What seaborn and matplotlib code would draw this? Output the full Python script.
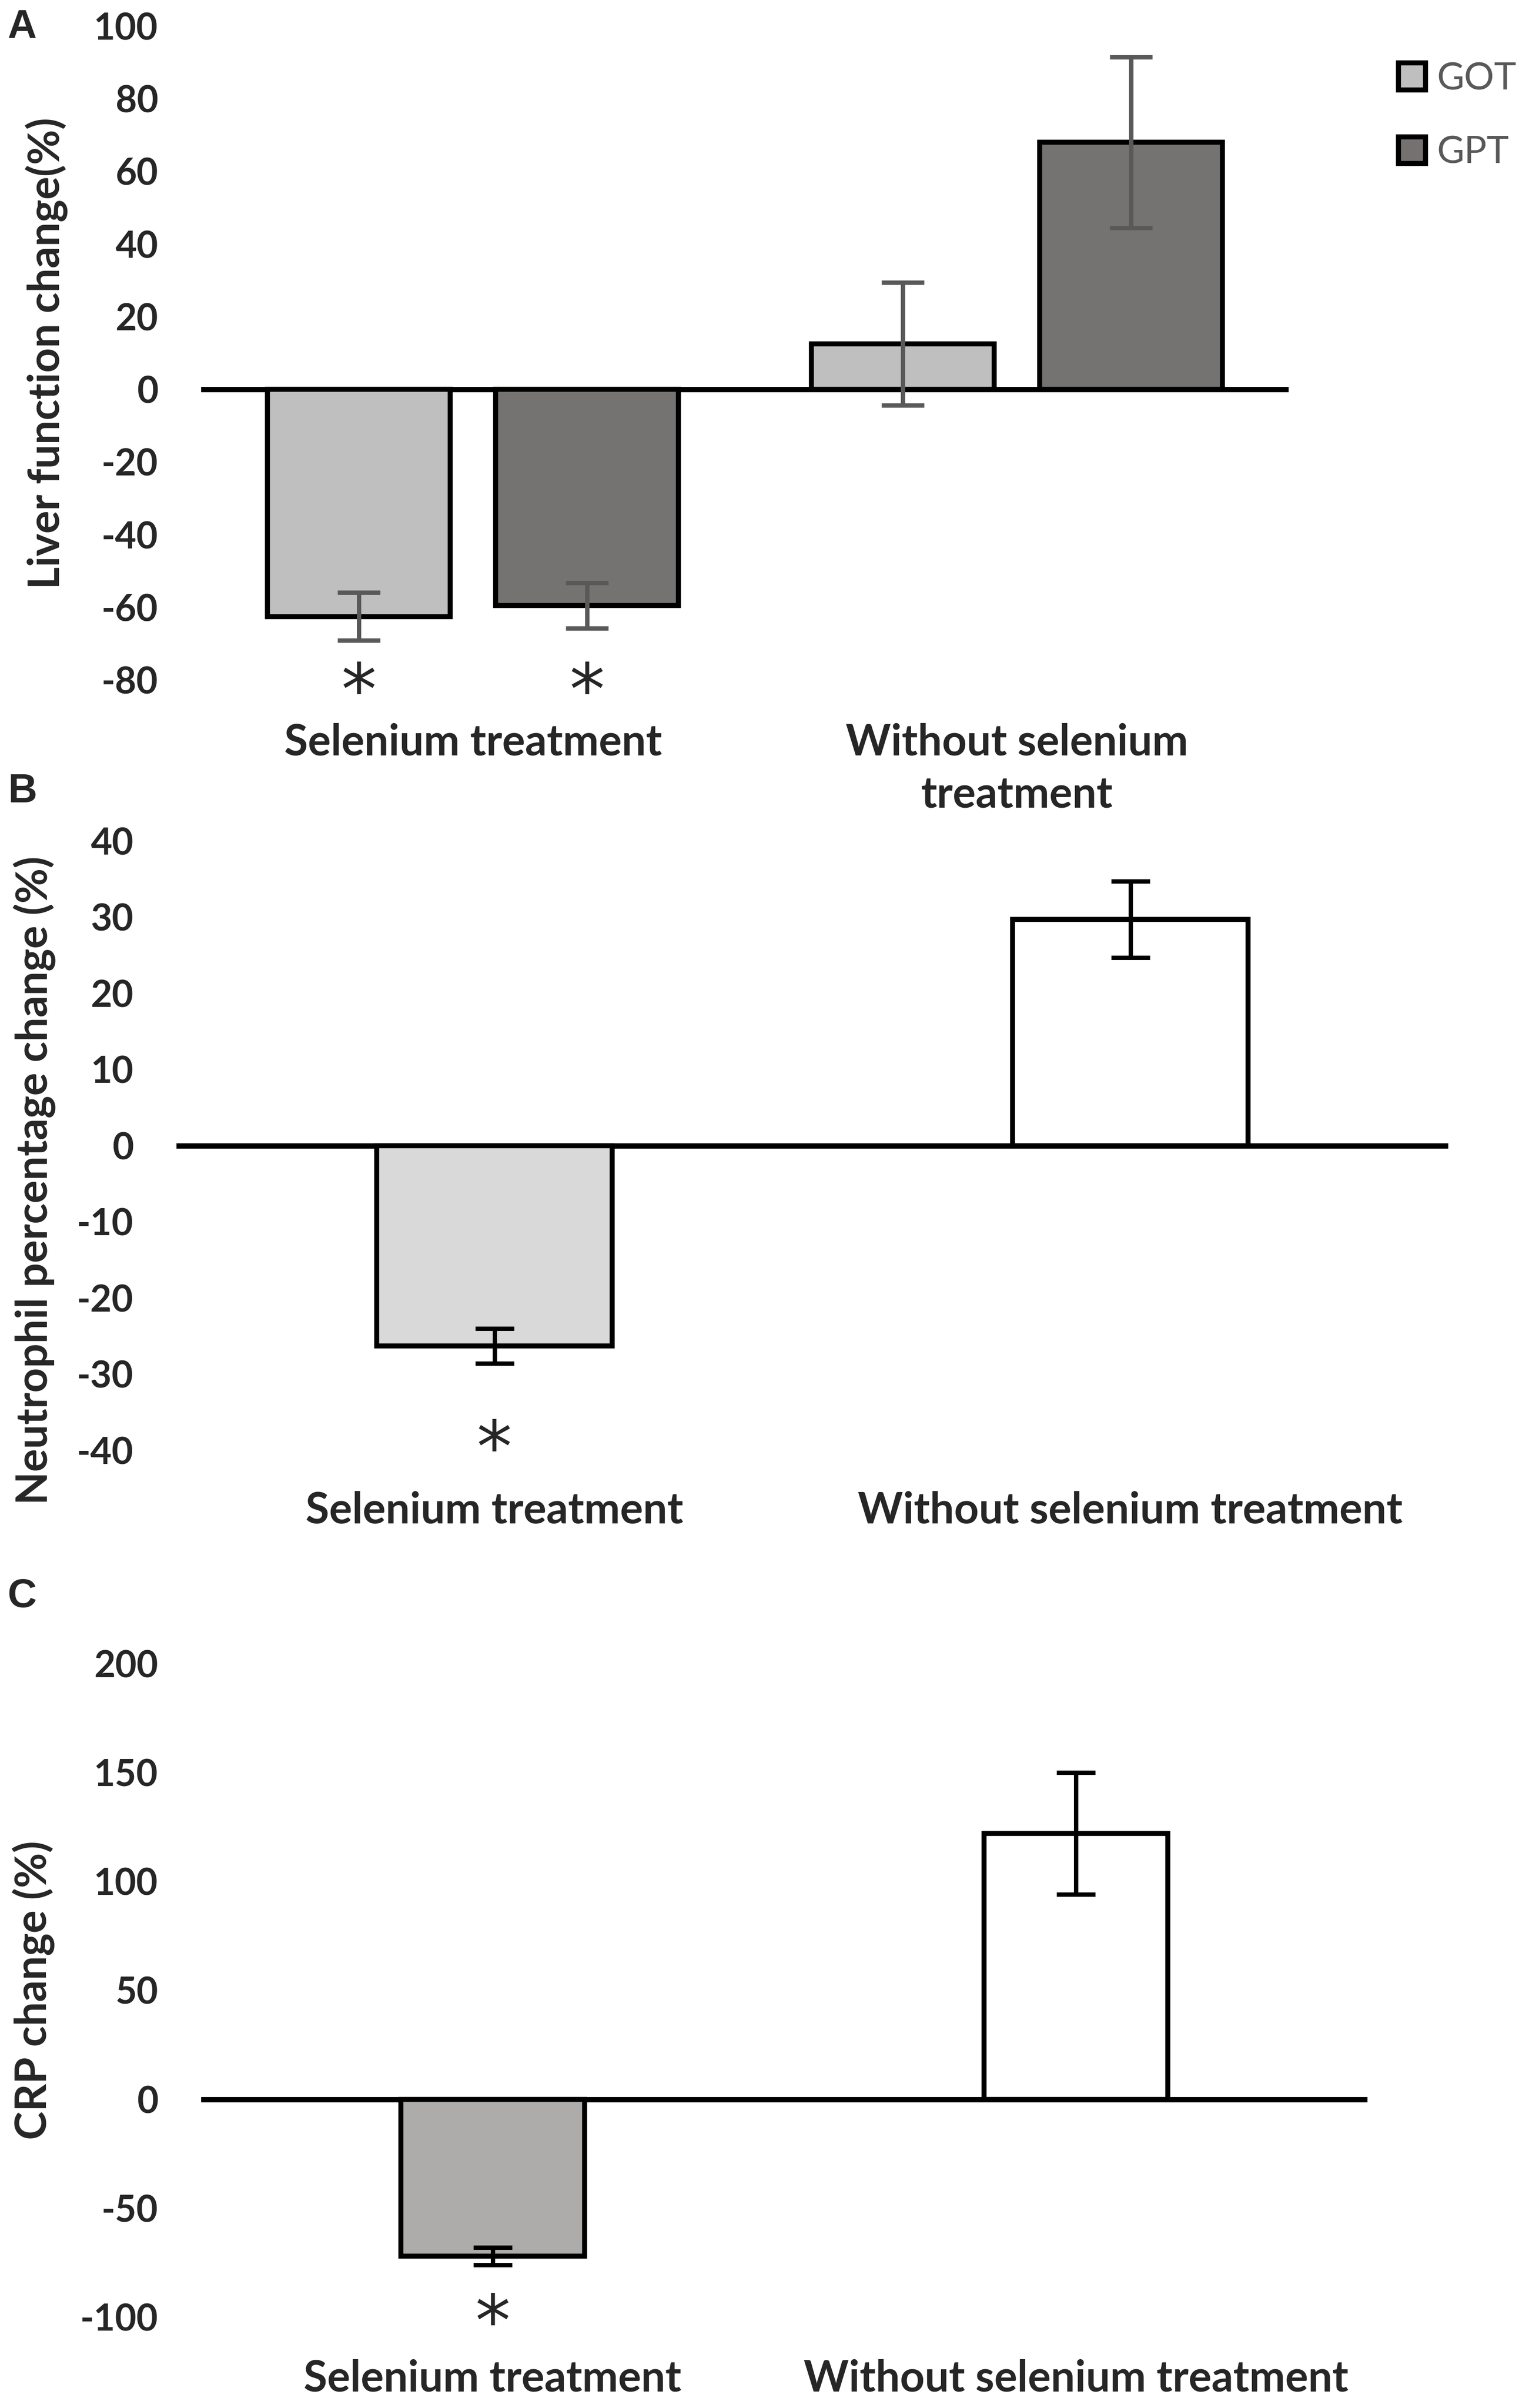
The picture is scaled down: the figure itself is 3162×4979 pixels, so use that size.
import matplotlib
matplotlib.use("Agg")
import matplotlib.pyplot as plt
from matplotlib.patches import Patch
import pandas as pd
import seaborn as sns

# Panel A - liver function
groups_a = ["Selenium treatment", "Without selenium\ntreatment"]
enzymes = ["GOT", "GPT"]
got_values = [-62.5, 12.5]
got_errors = [6.6, 16.9]
gpt_values = [-59.5, 68.0]
gpt_errors = [6.3, 23.5]

# Panel B - neutrophil
groups_b = ["Selenium treatment", "Without selenium treatment"]
neut_values = [-26.3, 29.7]
neut_errors = [2.3, 5.0]

# Panel C - CRP
crp_values = [-72.0, 122.0]
crp_errors = [4.0, 28.0]

W, H = 3162, 4979
sns.set_style("white")
plt.rcParams["font.family"] = ["Lato", "DejaVu Sans"]

fig = plt.figure(figsize=(W / 100, H / 100), dpi=100)


def px_axes(left, right, top, bottom):
    return fig.add_axes([left / W, 1 - bottom / H, (right - left) / W, (bottom - top) / H])


def style_axis(ax, ylim, ticks, ylabel, label_xy, xpad):
    ax.set_xlim(-0.5, 1.5)
    ax.set_ylim(*ylim)
    ax.set_yticks(ticks)
    ax.set_yticklabels([str(t) for t in ticks])
    sns.despine(ax=ax, left=True, bottom=True)
    ax.tick_params(axis="y", length=0, pad=64, labelsize=55)
    ax.tick_params(axis="x", length=0, pad=xpad, labelsize=64)
    for lab in ax.get_yticklabels() + ax.get_xticklabels():
        lab.set_fontweight("bold")
    ax.axhline(0, color="black", lw=8, zorder=1)
    ax.set_xlabel("")
    ax.set_ylabel(ylabel, fontsize=64, fontweight="bold", va="center")
    ax.yaxis.set_label_coords(*label_xy)
    ax.grid(False)


def add_errors(ax, bars, errs, color, cap):
    for bar, err in zip(bars, errs):
        xc = bar.get_x() + bar.get_width() / 2
        ax.errorbar(xc, bar.get_height(), yerr=err, color=color, elinewidth=6.5,
                    capsize=cap, capthick=6.5, zorder=3)


def add_star(ax, bar, y):
    ax.text(bar.get_x() + bar.get_width() / 2, y, "*", ha="center", va="center",
            fontsize=105, family="DejaVu Sans", clip_on=False)


# ---------- A ----------
axA = px_axes(416, 2665, 54, 1406)
dfA = pd.DataFrame({
    "group": groups_a * 2,
    "enzyme": [enzymes[0]] * 2 + [enzymes[1]] * 2,
    "value": got_values + gpt_values,
})
sns.barplot(data=dfA, x="group", y="value", hue="enzyme", hue_order=enzymes,
            palette={"GOT": "#bfbfbf", "GPT": "#767171"}, width=0.84, gap=0.2,
            edgecolor="black", linewidth=7.5, errorbar=None, legend=False,
            ax=axA, zorder=2)
bar_sets = list(axA.containers)
errsA = {"GOT": got_errors, "GPT": gpt_errors}
for cont, enz in zip(bar_sets, enzymes):
    add_errors(axA, list(cont), errsA[enz], "#595959", 32)
# significance marks under the selenium bars
for cont in bar_sets:
    add_star(axA, cont[0], -84)
style_axis(axA, (-80, 100), list(range(-80, 101, 20)), "Liver function change(%)",
           ((97 - 416) / (2665 - 416), 0.5), 64)
for lab in axA.get_xticklabels():
    lab.set_linespacing(1.4)

fig.legend(handles=[Patch(facecolor="#bfbfbf", edgecolor="black", lw=7.5, label="GOT"),
                    Patch(facecolor="#767171", edgecolor="black", lw=7.5, label="GPT")],
           loc="upper left", bbox_to_anchor=(2892 / W, 1 - 128 / H), frameon=False,
           fontsize=56, handlelength=0.72, handleheight=0.72, handletextpad=0.3,
           labelspacing=1.05, labelcolor="#595959", borderpad=0, borderaxespad=0)

# ---------- B ----------
axB = px_axes(365, 2995, 1739, 2999)
sns.barplot(x=groups_b, y=neut_values, hue=groups_b, palette=["#d9d9d9", "white"],
            width=0.37, edgecolor="black", linewidth=7.5, errorbar=None, legend=False,
            ax=axB, zorder=2)
barsB = sorted(axB.patches, key=lambda p: p.get_x())
add_errors(axB, barsB, neut_errors, "black", 29)
add_star(axB, barsB[0], -40.2)
style_axis(axB, (-40, 40), list(range(-40, 41, 10)), "Neutrophil percentage change (%)",
           ((72 - 365) / (2995 - 365), 0.443), 60)

# ---------- C ----------
axC = px_axes(416, 2828, 3440, 4791)
sns.barplot(x=groups_b, y=crp_values, hue=groups_b, palette=["#aeaaaa", "white"],
            width=0.315, edgecolor="black", linewidth=7.5, errorbar=None, legend=False,
            ax=axC, zorder=2)
barsC = sorted(axC.patches, key=lambda p: p.get_x())
add_errors(axC, barsC, crp_errors, "black", 29)
add_star(axC, barsC[0], -104)
style_axis(axC, (-100, 200), list(range(-100, 201, 50)), "CRP change (%)",
           ((70 - 416) / (2828 - 416), 0.5), 62)

# panel letters
for letter, ytop in [("A", 17), ("B", 1598), ("C", 3262)]:
    fig.text(16 / W, 1 - ytop / H, letter, ha="left", va="top", fontsize=60,
             fontweight="bold", family="Liberation Sans")

fig.savefig("out.png", dpi=100, facecolor="white")
